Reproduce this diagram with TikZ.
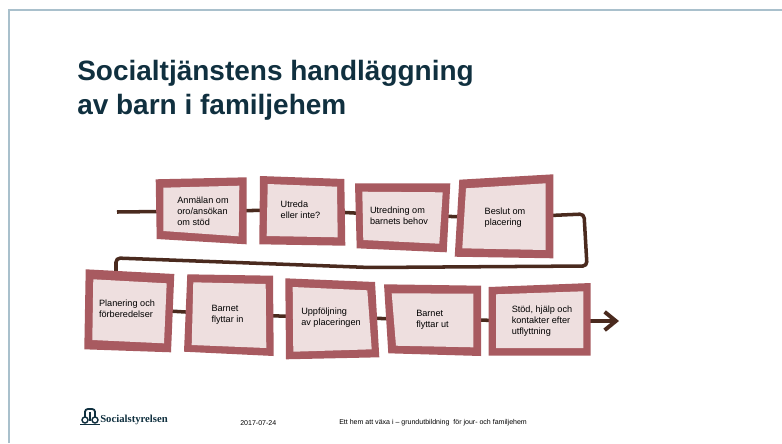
\documentclass[tikz,border=0pt]{standalone}
\usepackage{fontspec}
\setmainfont{Liberation Sans}
\newfontfamily\logofont{Liberation Serif}
\usetikzlibrary{arrows.meta,backgrounds}
\definecolor{framecol}{HTML}{A9C0CC}
\definecolor{titlecol}{HTML}{10303F}
\definecolor{rosecol}{HTML}{A85A60}
\definecolor{palecol}{HTML}{EEDFDF}
\definecolor{linecol}{HTML}{4A2A1E}
\tikzset{
    boxtext/.style={font=\fontsize{6.5}{7.9}\selectfont, align=left, inner sep=0pt, text=black},
    footertext/.style={anchor=west, inner sep=0pt, font=\fontsize{5}{6}\selectfont},
    flowline/.style={line width=2.5pt, linecol},
    lowline/.style={flowline, yshift=2.5pt},
    outerbox/.style={fill=rosecol},
    innerbox/.style={fill=palecol},
}
\begin{document}
\begin{tikzpicture}[x=0.025cm, y=-0.025cm]
    \useasboundingbox (0, 0) rectangle (782, 443);
    \draw[line width=1.5pt, framecol] (9, 443) -- (9, 10) -- (782, 10);

    \node[anchor=west, align=left, inner sep=0pt, text=titlecol, font=\fontsize{19.9}{24}\selectfont\bfseries] (title) at (77, 90) {Socialtjänstens handläggning\\av barn i familjehem};

    \node[boxtext] (anmalan) at (203, 211) {Anmälan om\\oro/ansökan\\om stöd};
    \node[boxtext] (utreda) at (300.5, 210) {Utreda\\eller inte?};
    \node[boxtext] (utredning) at (399, 215.5) {Utredning  om\\barnets behov};
    \node[boxtext] (beslut) at (505, 217.5) {Beslut om\\placering};
    \node[boxtext] (planering) at (127, 308.5) {Planering och\\förberedelser};
    \node[boxtext] (inflytt) at (227.5, 314.5) {Barnet\\flyttar  in};
    \node[boxtext] (uppfoljning) at (331, 317.5) {Uppföljning\\av placeringen};
    \node[boxtext] (utflytt) at (432.5, 319.5) {Barnet\\flyttar  ut};
    \node[boxtext] (stod) at (542, 321) {Stöd, hjälp och\\kontakter  efter\\utflyttning};

    \coordinate (start) at (117, 212);
    \coordinate (turnA) at (584, 214);
    \coordinate (turnB) at (587, 266);
    \coordinate (turnC) at (370, 267.5);
    \coordinate (turnD) at (116, 258);
    \coordinate (finish) at (619, 321);

    \begin{scope}[on background layer]
        \draw[flowline] (start) -- (anmalan);
        \draw[flowline] (anmalan) -- (utreda);
        \draw[flowline] (utreda) -- (utredning);
        \draw[flowline] (utredning) -- (beslut);
        \draw[flowline, rounded corners=3] (beslut) -- (turnA) -- (turnB) -- (turnC) -- (turnD) -- (turnD |- planering);
        \draw[lowline] (planering) -- (inflytt);
        \draw[lowline] (inflytt) -- (uppfoljning);
        \draw[lowline] (uppfoljning) -- (utflytt);
        \draw[lowline] (utflytt) -- (stod);
        \draw[flowline, line width=2.8pt, -{Straight Barb[length=8pt, width=13pt, line width=2.8pt]}] (stod) -- (finish);

        \fill[outerbox] (155.7, 179.3) -- (246.7, 177.3) -- (246.7, 244.3) -- (156.7, 239) -- cycle;
        \fill[innerbox] (163.3, 187.7) -- (239.3, 185.7) -- (238.7, 236.3) -- (163.3, 231) -- cycle;
        \fill[outerbox] (260, 176) -- (344.3, 179) -- (345.3, 245.7) -- (259.3, 244.3) -- cycle;
        \fill[innerbox] (267.7, 184) -- (337, 186.7) -- (337.7, 237.3) -- (266.7, 236) -- cycle;
        \fill[outerbox] (355, 183.3) -- (450.3, 183.3) -- (446.7, 252.3) -- (356.7, 248.3) -- cycle;
        \fill[innerbox] (362.3, 191.7) -- (442.7, 192.3) -- (439.3, 243.7) -- (363.3, 240) -- cycle;
        \fill[outerbox] (459.3, 179.7) -- (553.3, 174.3) -- (553.3, 258.3) -- (454.7, 256.7) -- cycle;
        \fill[innerbox] (466, 188.3) -- (545.7, 183.3) -- (545.7, 250) -- (462.3, 248.3) -- cycle;

        \fill[outerbox] (85.7, 269.3) -- (174.3, 274) -- (171, 352.3) -- (84.3, 349.3) -- cycle;
        \fill[innerbox] (93.3, 279.3) -- (166.7, 283.3) -- (164, 343.3) -- (92.3, 340) -- cycle;
        \fill[outerbox] (187.3, 274.3) -- (273, 275.7) -- (273.7, 356) -- (184, 351.7) -- cycle;
        \fill[innerbox] (193.3, 282.3) -- (265.7, 284) -- (266.3, 348) -- (191.7, 345) -- cycle;
        \fill[outerbox] (285.3, 278.3) -- (375, 282) -- (379.3, 357.3) -- (286, 359.3) -- cycle;
        \fill[innerbox] (292.7, 287) -- (367.3, 290.3) -- (371.7, 349.3) -- (293.3, 351.7) -- cycle;
        \fill[outerbox] (384, 284.3) -- (481, 285.7) -- (481, 356) -- (388.3, 353.3) -- cycle;
        \fill[innerbox] (391.7, 293.3) -- (473.3, 293.7) -- (473.3, 347.3) -- (396, 345.7) -- cycle;
        \fill[outerbox] (488.7, 287) -- (590.7, 283) -- (590.7, 355.7) -- (488.7, 355.7) -- cycle;
        \fill[innerbox] (496, 294.3) -- (583.3, 291.3) -- (583.3, 348) -- (496, 348) -- cycle;
    \end{scope}

    % logo
    \draw[titlecol, line width=1.3pt, rounded corners=2] (85, 417) -- (85, 409) -- (95, 409) -- (95, 417);
    \draw[titlecol, line width=1pt] (85, 420) circle (3);
    \draw[titlecol, line width=1pt] (90, 412) -- (90, 420.5);
    \draw[titlecol, line width=1pt] (95, 420) circle (3);
    \draw[titlecol, line width=1.4pt] (80, 424.5) -- (100, 424.5);
    \node[anchor=west, inner sep=0pt, text=titlecol, font=\logofont\fontsize{7.6}{8}\selectfont\bfseries] (logo) at (100, 420) {Socialstyrelsen};

    \node[footertext] (datum) at (240, 423) {2017-07-24};
    \node[footertext] (kurs) at (339, 423) {Ett hem att växa i – grundutbildning\ \ för jour- och familjehem};
\end{tikzpicture}
\end{document}
